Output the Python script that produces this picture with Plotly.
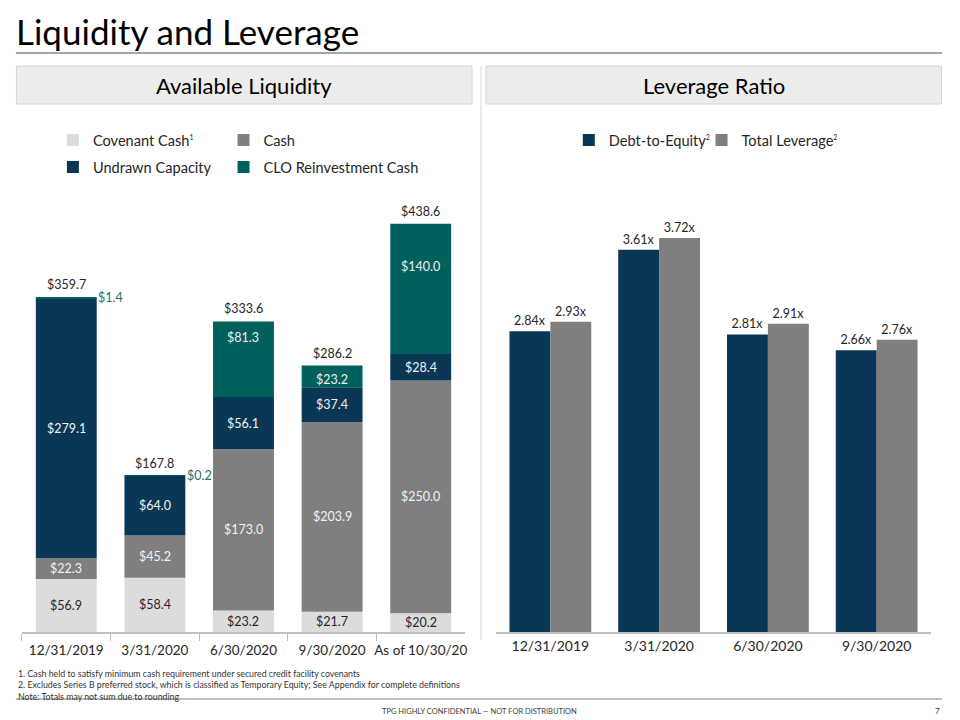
import plotly.graph_objects as go

# ---------------- data ----------------
liq_categories = ["12/31/2019", "3/31/2020", "6/30/2020", "9/30/2020", "As of 10/30/20"]
covenant_cash = [56.9, 58.4, 23.2, 21.7, 20.2]
cash = [22.3, 45.2, 173.0, 203.9, 250.0]
undrawn_capacity = [279.1, 64.0, 56.1, 37.4, 28.4]
clo_reinvestment_cash = [1.4, 0.2, 81.3, 23.2, 140.0]
liq_totals = [359.7, 167.8, 333.6, 286.2, 438.6]

lev_categories = ["12/31/2019", "3/31/2020", "6/30/2020", "9/30/2020"]
debt_to_equity = [2.84, 3.61, 2.81, 2.66]
total_leverage = [2.93, 3.72, 2.91, 2.76]

# ---------------- style ----------------
FONT = "Lato"
NAVY = "#0b3756"
TEAL = "#00605b"
GREY = "#7f7f7f"
LIGHT = "#dcdcdc"
TXT = "#262626"
W, H = 960, 720


def px(x):
    return x / W


def py(y):
    return 1 - y / H


SUP = "<sup><span style='font-size:7px'>{}</span></sup>"

fig = go.Figure()

series = [
    ("Covenant Cash" + SUP.format(1), covenant_cash, LIGHT, "legend", TXT),
    ("Cash", cash, GREY, "legend2", "#f2f2f2"),
    ("Undrawn Capacity", undrawn_capacity, NAVY, "legend3", "#f2f2f2"),
    ("CLO Reinvestment Cash", clo_reinvestment_cash, TEAL, "legend4", "#f2f2f2"),
]
# label vertical nudges (px) for CLO labels, style only
clo_label_shift = [0, 0, 22, -3, 22]

bar_w = 0.687
base = [0.0] * len(liq_categories)
annotations = []
LBL = 12.5
for si, (name, vals, col, leg, tcol) in enumerate(series):
    fig.add_trace(go.Bar(
        name=name, x=liq_categories, y=vals, base=list(base),
        width=bar_w, offset=-bar_w / 2,
        marker=dict(color=col, line=dict(width=0)),
        legend=leg, xaxis="x", yaxis="y", hoverinfo="skip",
    ))
    for i, v in enumerate(vals):
        if v < 5:
            annotations.append(dict(
                x=liq_categories[i], y=base[i] + v, xref="x", yref="y",
                text=f"${v:.1f}", showarrow=False, xanchor="left", yanchor="middle",
                xshift=30, font=dict(family=FONT, size=LBL, color="#1f6f6a")))
        else:
            ys = clo_label_shift[i] if si == 3 else 0
            annotations.append(dict(
                x=liq_categories[i], y=base[i] + v / 2, xref="x", yref="y",
                text=f"${v:.1f}", showarrow=False, yshift=ys,
                font=dict(family=FONT, size=LBL, color=tcol)))
        base[i] += v

for i, t in enumerate(liq_totals):
    annotations.append(dict(
        x=liq_categories[i], y=base[i], xref="x", yref="y",
        text=f"${t:.1f}", showarrow=False, yanchor="bottom", yshift=3,
        font=dict(family=FONT, size=LBL, color=TXT)))

lw = 0.376
fig.add_trace(go.Bar(
    name="Debt-to-Equity" + SUP.format(2), x=lev_categories, y=debt_to_equity,
    width=lw, offset=-lw, marker=dict(color=NAVY, line=dict(width=0)),
    text=[f"{v:.2f}x" for v in debt_to_equity], textposition="outside",
    textfont=dict(family=FONT, size=LBL, color=TXT), cliponaxis=False,
    legend="legend5", xaxis="x2", yaxis="y2", hoverinfo="skip"))
fig.add_trace(go.Bar(
    name="Total Leverage" + SUP.format(2), x=lev_categories, y=total_leverage,
    width=lw, offset=0, marker=dict(color=GREY, line=dict(width=0)),
    text=[f"{v:.2f}x" for v in total_leverage], textposition="outside",
    textfont=dict(family=FONT, size=LBL, color=TXT), cliponaxis=False,
    legend="legend6", xaxis="x2", yaxis="y2", hoverinfo="skip"))

# ---------------- page decorations ----------------
shapes = [
    dict(type="line", xref="paper", yref="paper", x0=px(16), x1=px(944), y0=py(53), y1=py(53),
         line=dict(color="#a6a6a6", width=2)),
    dict(type="rect", xref="paper", yref="paper", x0=px(16.5), x1=px(473), y0=py(66), y1=py(104),
         fillcolor="#ececec", line=dict(color="#d6d6d6", width=1), layer="below"),
    dict(type="rect", xref="paper", yref="paper", x0=px(487), x1=px(943.5), y0=py(66), y1=py(104),
         fillcolor="#ececec", line=dict(color="#d6d6d6", width=1), layer="below"),
    dict(type="line", xref="paper", yref="paper", x0=px(482), x1=px(482), y0=py(66), y1=py(640),
         line=dict(color="#d9d9d9", width=1)),
    dict(type="line", xref="paper", yref="paper", x0=px(16), x1=px(944), y0=py(699), y1=py(699),
         line=dict(color="#bfbfbf", width=2)),
]

annotations += [
    dict(text="Liquidity and Leverage", x=px(14), y=py(31), xref="paper", yref="paper",
         xanchor="left", yanchor="middle", showarrow=False,
         font=dict(family=FONT, size=35, color="#000000")),
    dict(text="Available Liquidity", x=px(245), y=py(85), xref="paper", yref="paper",
         xanchor="center", yanchor="middle", showarrow=False,
         font=dict(family=FONT, size=22, color="#000000")),
    dict(text="Leverage Ratio", x=px(715), y=py(85), xref="paper", yref="paper",
         xanchor="center", yanchor="middle", showarrow=False,
         font=dict(family=FONT, size=22, color="#000000")),
    dict(text="1. Cash held to satisfy minimum cash requirement under secured credit facility covenants"
              "<br>2. Excludes Series B preferred stock, which is classified as Temporary Equity; See Appendix for complete definitions"
              "<br>Note: Totals may not sum due to rounding",
         x=px(16), y=py(666), xref="paper", yref="paper", xanchor="left", yanchor="top",
         align="left", showarrow=False, font=dict(family=FONT, size=8.8, color="#333333")),
    dict(text="TPG HIGHLY CONFIDENTIAL — NOT FOR DISTRIBUTION", x=px(481), y=py(711),
         xref="paper", yref="paper", xanchor="center", yanchor="middle", showarrow=False,
         font=dict(family=FONT, size=7.5, color="#404040")),
    dict(text="7", x=px(944), y=py(711), xref="paper", yref="paper", xanchor="right",
         yanchor="middle", showarrow=False, font=dict(family=FONT, size=8, color="#404040")),
]

leg_common = dict(orientation="h", font=dict(family=FONT, size=14.6, color=TXT),
                  bgcolor="rgba(0,0,0,0)", borderwidth=0, itemclick=False,
                  itemdoubleclick=False, xanchor="left", yanchor="middle")

fig.update_layout(
    width=W, height=H, margin=dict(l=0, r=0, t=0, b=0), autosize=False,
    paper_bgcolor="white", plot_bgcolor="white",
    barmode="overlay", showlegend=True,
    font=dict(family=FONT, color=TXT),
    xaxis=dict(domain=[px(22), px(466)], type="category", anchor="y",
               showline=True, linecolor="#bfbfbf", linewidth=1.5, tickangle=0,
               ticks="outside", tickson="boundaries", ticklen=7, tickcolor="#bfbfbf",
               ticklabelstandoff=5,
               tickfont=dict(family=FONT, size=13.5, color=TXT), showgrid=False, fixedrange=True),
    yaxis=dict(domain=[py(632), py(200)], range=[0, 432 / 0.931], visible=False,
               anchor="x", fixedrange=True),
    xaxis2=dict(domain=[px(497), px(933)], type="category", anchor="y2",
                showline=True, linecolor="#bfbfbf", linewidth=1.5, ticks="", tickangle=0,
                tickfont=dict(family=FONT, size=14, color=TXT), showgrid=False, fixedrange=True),
    yaxis2=dict(domain=[py(632), py(200)], range=[0, 432 / 105.9], visible=False,
                anchor="x2", fixedrange=True),
    legend=dict(x=px(53), y=py(140), **leg_common),
    legend2=dict(x=px(224), y=py(140), **leg_common),
    legend3=dict(x=px(53), y=py(167), **leg_common),
    legend4=dict(x=px(224), y=py(167), **leg_common),
    legend5=dict(x=px(570), y=py(140), **leg_common),
    legend6=dict(x=px(703), y=py(140), **leg_common),
    shapes=shapes, annotations=annotations,
)

fig.write_html(
    "out.html",
    config={"responsive": False, "displayModeBar": False},
    post_script="document.body.style.margin='0';document.body.style.overflow='hidden';",
)
